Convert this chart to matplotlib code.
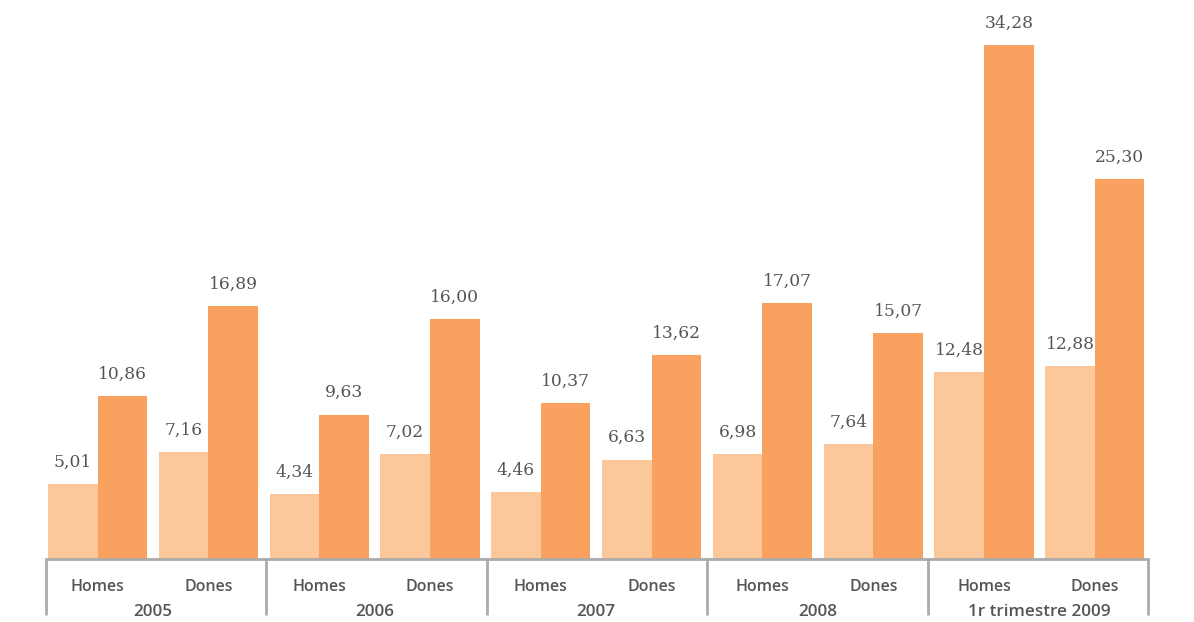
import matplotlib.pyplot as plt
import numpy as np

years = ["2005", "2006", "2007", "2008", "1r trimestre 2009"]
genders = ["Homes", "Dones"]
# light bar (first series) and dark bar (second series), per year and gender
serie1 = [5.01, 7.16, 4.34, 7.02, 4.46, 6.63, 6.98, 7.64, 12.48, 12.88]
serie2 = [10.86, 16.89, 9.63, 16.00, 10.37, 13.62, 17.07, 15.07, 34.28, 25.30]

light = "#FCC89B"
dark = "#F9A260"
grey_txt = "#555555"
grey_line = "#ABABAB"

fig = plt.figure(figsize=(11.94, 6.22), dpi=100)
ax = fig.add_axes([46 / 1194, 1 - 559 / 622, 1102 / 1194, 559 / 622])

x = np.arange(len(serie1))
w = 0.448
ax.bar(x - w / 2, serie1, w, color=light)
ax.bar(x + w / 2, serie2, w, color=dark)

def fmt(v):
    return f"{v:.2f}".replace(".", ",")

for i in range(len(x)):
    ax.text(x[i] - w / 2, serie1[i] + 1.45, fmt(serie1[i]), ha="center", va="center",
            fontsize=12.3, color=grey_txt, family="DejaVu Serif")
    ax.text(x[i] + w / 2, serie2[i] + 1.45, fmt(serie2[i]), ha="center", va="center",
            fontsize=12.3, color=grey_txt, family="DejaVu Serif")

ax.set_xlim(-0.465, 9.48)
ax.set_ylim(0, 559 / 15)
for s in ["top", "right", "left"]:
    ax.spines[s].set_visible(False)
ax.spines["bottom"].set_color(grey_line)
ax.spines["bottom"].set_linewidth(2)
ax.set_yticks([])
ax.set_xticks([])

trans = ax.get_xaxis_transform()
for i in range(len(x)):
    ax.text(x[i], -28 / 559, genders[i % 2], transform=trans, ha="center", va="center",
            fontsize=11.5, color=grey_txt, family="Open Sans", weight="semibold")
for k in range(len(years)):
    ax.text(2 * k + 0.5, -53 / 559, years[k], transform=trans, ha="center", va="center",
            fontsize=12.3, color=grey_txt, family="Open Sans", weight="semibold")
for b in np.linspace(-0.465, 9.48, 6):
    ax.plot([b, b], [0, -56 / 559], transform=trans, color=grey_line, lw=2,
            clip_on=False, solid_capstyle="butt")

fig.savefig("out.png", dpi=100)
